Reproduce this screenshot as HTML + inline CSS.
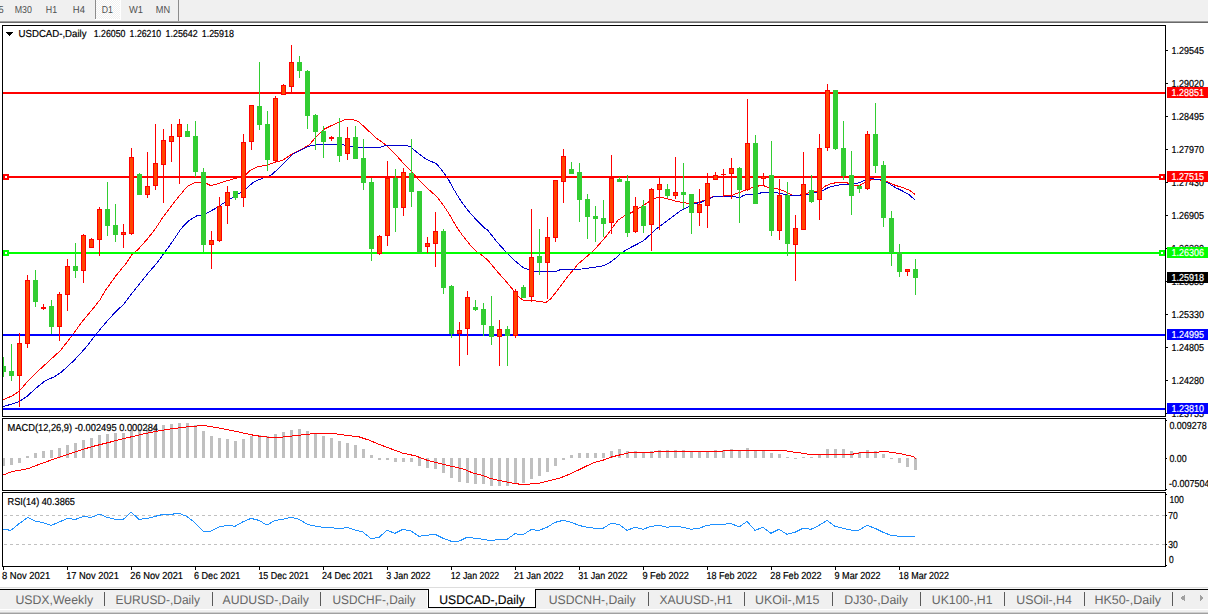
<!DOCTYPE html>
<html><head><meta charset="utf-8"><title>USDCAD-,Daily</title>
<style>
html,body{margin:0;padding:0;background:#fff;overflow:hidden}
svg{display:block;font-family:"Liberation Sans",sans-serif;text-rendering:geometricPrecision}
rect,path{shape-rendering:crispEdges}
</style></head><body>
<svg width="1208" height="614" viewBox="0 0 1208 614">
<rect x="0" y="0" width="1208" height="614" fill="#ffffff"/>
<rect x="0" y="0" width="1208" height="21" fill="#f0f0f0"/>
<rect x="0" y="21" width="1208" height="1" fill="#a0a0a0"/>
<rect x="0" y="22" width="1208" height="1" fill="#696969"/>
<defs><pattern id="chk" width="2" height="2" patternUnits="userSpaceOnUse"><rect width="2" height="2" fill="#f0f0f0"/><rect width="1" height="1" fill="#fff"/><rect x="1" y="1" width="1" height="1" fill="#fff"/></pattern></defs>
<rect x="96" y="0" width="24" height="19" fill="url(#chk)"/>
<rect x="95" y="19" width="25" height="1" fill="#ffffff"/>
<rect x="120" y="0" width="1" height="20" fill="#ffffff"/>
<rect x="95" y="0" width="1" height="19" fill="#8c8c8c"/>
<rect x="178" y="0" width="1" height="21" fill="#8c8c8c"/>
<text x="-1.5" y="13" font-size="10.1" fill="#505050" text-anchor="start" textLength="5.2" lengthAdjust="spacingAndGlyphs">5</text>
<text x="14.7" y="13" font-size="10.1" fill="#505050" text-anchor="start" textLength="17.2" lengthAdjust="spacingAndGlyphs">M30</text>
<text x="45.8" y="13" font-size="10.1" fill="#505050" text-anchor="start" textLength="11.3" lengthAdjust="spacingAndGlyphs">H1</text>
<text x="72.8" y="13" font-size="10.1" fill="#505050" text-anchor="start" textLength="12.1" lengthAdjust="spacingAndGlyphs">H4</text>
<text x="101.8" y="13" font-size="10.1" fill="#505050" text-anchor="start" textLength="11.2" lengthAdjust="spacingAndGlyphs">D1</text>
<text x="129" y="13" font-size="10.1" fill="#505050" text-anchor="start" textLength="14" lengthAdjust="spacingAndGlyphs">W1</text>
<text x="155.8" y="13" font-size="10.1" fill="#505050" text-anchor="start" textLength="14.3" lengthAdjust="spacingAndGlyphs">MN</text>
<rect x="2" y="25" width="1164" height="1" fill="#000"/>
<rect x="2" y="416" width="1164" height="1" fill="#000"/>
<rect x="2" y="25" width="1" height="392" fill="#000"/>
<rect x="1165" y="25" width="1" height="392" fill="#000"/>
<rect x="2" y="418" width="1164" height="1" fill="#000"/>
<rect x="2" y="490" width="1164" height="1" fill="#000"/>
<rect x="2" y="418" width="1" height="73" fill="#000"/>
<rect x="1165" y="418" width="1" height="73" fill="#000"/>
<rect x="2" y="492" width="1164" height="1" fill="#000"/>
<rect x="2" y="566" width="1164" height="1" fill="#000"/>
<rect x="2" y="492" width="1" height="75" fill="#000"/>
<rect x="1165" y="492" width="1" height="75" fill="#000"/>
<defs><clipPath id="cm"><rect x="3" y="26" width="1162" height="390"/></clipPath><clipPath id="c2"><rect x="3" y="419" width="1162" height="71"/></clipPath><clipPath id="c3"><rect x="3" y="493" width="1162" height="73"/></clipPath></defs>
<g clip-path="url(#cm)">
<polyline points="2.8,399.9 12.2,395.8 19.3,391.1 26.5,382.6 38.7,370.4 48.8,361.2 60.0,351.0 71.2,336.8 81.4,322.6 91.6,310.4 99.7,300.2 105.8,289.9 116.0,275.6 126.1,263.4 132.2,254.3 138.3,249.2 146.5,240.0 154.6,229.9 162.7,217.6 170.9,206.5 179.0,196.3 187.2,186.5 195.3,182.3 203.4,182.0 210.6,185.5 217.7,183.9 227.9,180.5 236.0,178.2 242.0,176.0 246.0,174.5 250.2,170.5 258.3,166.5 266.5,165.4 274.6,162.4 282.7,160.2 291.9,154.1 301.0,149.5 309.2,144.9 315.3,137.7 323.4,129.5 331.6,125.5 339.7,121.8 345.8,119.4 350.9,119.0 358.0,121.4 364.1,126.5 368.0,130.4 376.3,138.1 386.5,145.3 394.6,153.4 402.7,162.6 410.9,170.7 419.0,179.9 429.2,190.0 437.3,197.2 443.4,205.3 449.5,214.5 455.6,225.3 461.8,234.5 469.9,244.6 476.0,251.2 482.1,255.5 488.0,260.3 497.0,271.2 505.1,280.4 513.3,290.1 518.3,296.6 523.4,300.3 531.6,300.7 539.7,301.3 545.8,302.7 550.9,298.7 558.0,289.5 564.1,281.4 568.0,276.3 578.0,264.1 585.1,258.0 593.3,250.9 601.4,241.8 607.5,234.6 612.6,227.5 617.7,220.4 623.8,216.3 629.9,213.3 636.0,210.2 642.1,206.1 646.1,203.6 652.2,199.5 659.3,196.9 666.5,198.5 674.6,200.9 682.7,202.6 690.9,203.6 697.0,202.6 705.1,200.1 713.3,196.5 723.4,196.0 731.6,195.4 739.7,192.4 747.9,189.3 753.0,187.3 758.2,186.5 759.5,185.2 763.4,185.2 765.4,186.5 768.6,187.5 776.3,188.2 784.4,191.3 792.6,195.4 797.6,196.0 802.7,194.3 810.9,192.3 819.0,191.3 825.1,186.2 831.2,183.5 839.4,182.3 847.5,183.0 853.6,185.2 859.7,185.5 865.6,181.8 871.0,179.8 879.5,179.8 886.8,181.7 894.9,185.2 903.1,187.7 909.2,190.1 914.9,194.4" fill="none" stroke="#ff0000" stroke-width="1" shape-rendering="crispEdges"/>
<polyline points="2.8,406.6 12.2,404.0 19.3,401.5 26.5,396.8 36.6,387.7 44.8,381.0 54.9,376.5 61.0,372.4 73.3,361.2 85.5,348.0 95.6,334.8 105.8,322.6 116.0,311.4 124.0,304.0 132.2,293.0 140.4,282.8 148.5,272.6 156.6,263.4 164.8,252.2 172.9,241.0 181.0,228.8 189.2,220.3 197.3,215.6 203.4,215.0 207.5,212.6 215.6,208.5 221.7,204.4 229.9,199.3 238.0,194.2 246.1,188.6 254.2,181.7 262.4,178.3 270.5,175.6 278.7,168.5 286.8,160.4 292.9,154.1 301.0,150.1 309.2,146.1 317.3,144.5 325.5,144.2 335.7,144.2 343.8,145.0 349.9,146.3 360.0,147.3 370.2,147.7 380.4,147.3 386.5,145.3 394.6,145.4 402.7,145.2 409.9,146.3 417.0,152.4 425.1,158.5 431.2,161.5 436.3,163.6 441.4,169.7 447.5,177.8 453.6,189.0 459.7,199.2 467.9,210.4 476.0,219.5 484.1,227.7 487.4,229.9 497.3,242.3 507.3,253.5 517.2,262.8 523.4,267.8 527.7,269.3 534.6,271.5 555.7,271.5 561.3,269.3 571.8,269.3 581.8,269.0 590.5,267.8 599.1,266.5 604.1,265.7 610.3,262.2 615.3,258.5 620.0,254.1 623.8,251.5 631.9,246.8 638.0,243.8 644.1,240.2 648.1,236.5 656.3,229.0 664.4,222.9 672.6,216.8 680.7,210.7 688.8,206.6 694.9,203.6 701.0,202.2 707.2,199.5 710.0,198.5 714.2,196.3 735.4,196.3 736.7,197.6 740.0,197.6 743.2,195.6 746.5,194.3 753.0,194.3 759.5,193.7 761.5,192.4 768.6,192.4 776.3,192.7 784.4,194.3 792.6,196.0 800.7,195.4 808.8,194.3 817.0,192.3 823.1,190.3 829.2,187.2 837.3,185.2 845.5,184.4 853.6,183.6 859.7,182.7 865.6,179.8 871.0,178.8 879.5,179.3 886.8,182.2 894.9,187.3 903.1,191.3 909.2,194.8 914.9,199.9" fill="none" stroke="#0000cd" stroke-width="1" shape-rendering="crispEdges"/>
</g>
<g clip-path="url(#cm)">
<rect x="3" y="92" width="1162" height="2" fill="#ff0000"/>
<rect x="3" y="176" width="1162" height="2" fill="#ff0000"/>
<rect x="3" y="252" width="1162" height="2" fill="#00ff00"/>
<rect x="3" y="334" width="1162" height="2" fill="#0000ff"/>
<rect x="3" y="408" width="1162" height="2" fill="#0000ff"/>
</g>
<g clip-path="url(#cm)">
<rect x="3" y="357" width="1" height="20" fill="#32cd32"/>
<rect x="1" y="366" width="5" height="6" fill="#32cd32"/>
<rect x="11" y="344" width="1" height="37" fill="#32cd32"/>
<rect x="9" y="371" width="5" height="5" fill="#32cd32"/>
<rect x="19" y="333" width="1" height="74" fill="#ff0000"/>
<rect x="17" y="343" width="5" height="33" fill="#ff0000"/>
<rect x="18" y="344" width="3" height="31" fill="#ff4500"/>
<rect x="27" y="275" width="1" height="73" fill="#ff0000"/>
<rect x="25" y="280" width="5" height="64" fill="#ff0000"/>
<rect x="26" y="281" width="3" height="62" fill="#ff4500"/>
<rect x="35" y="270" width="1" height="37" fill="#32cd32"/>
<rect x="33" y="280" width="5" height="22" fill="#32cd32"/>
<rect x="43" y="304" width="1" height="6" fill="#ff0000"/>
<rect x="41" y="307" width="5" height="2" fill="#ff0000"/>
<rect x="51" y="300" width="1" height="34" fill="#32cd32"/>
<rect x="49" y="306" width="5" height="21" fill="#32cd32"/>
<rect x="59" y="292" width="1" height="49" fill="#ff0000"/>
<rect x="57" y="294" width="5" height="33" fill="#ff0000"/>
<rect x="58" y="295" width="3" height="31" fill="#ff4500"/>
<rect x="67" y="259" width="1" height="52" fill="#ff0000"/>
<rect x="65" y="266" width="5" height="29" fill="#ff0000"/>
<rect x="66" y="267" width="3" height="27" fill="#ff4500"/>
<rect x="75" y="243" width="1" height="35" fill="#32cd32"/>
<rect x="73" y="266" width="5" height="5" fill="#32cd32"/>
<rect x="83" y="234" width="1" height="49" fill="#ff0000"/>
<rect x="81" y="235" width="5" height="36" fill="#ff0000"/>
<rect x="82" y="236" width="3" height="34" fill="#ff4500"/>
<rect x="91" y="238" width="1" height="10" fill="#ff0000"/>
<rect x="89" y="239" width="5" height="9" fill="#ff0000"/>
<rect x="90" y="240" width="3" height="7" fill="#ff4500"/>
<rect x="99" y="207" width="1" height="49" fill="#ff0000"/>
<rect x="97" y="209" width="5" height="31" fill="#ff0000"/>
<rect x="98" y="210" width="3" height="29" fill="#ff4500"/>
<rect x="107" y="182" width="1" height="54" fill="#32cd32"/>
<rect x="105" y="209" width="5" height="17" fill="#32cd32"/>
<rect x="115" y="204" width="1" height="38" fill="#32cd32"/>
<rect x="113" y="225" width="5" height="10" fill="#32cd32"/>
<rect x="123" y="224" width="1" height="24" fill="#ff0000"/>
<rect x="121" y="232" width="5" height="3" fill="#ff0000"/>
<rect x="122" y="233" width="3" height="1" fill="#ff4500"/>
<rect x="131" y="148" width="1" height="87" fill="#ff0000"/>
<rect x="129" y="157" width="5" height="77" fill="#ff0000"/>
<rect x="130" y="158" width="3" height="75" fill="#ff4500"/>
<rect x="139" y="173" width="1" height="22" fill="#32cd32"/>
<rect x="137" y="174" width="5" height="21" fill="#32cd32"/>
<rect x="147" y="152" width="1" height="46" fill="#ff0000"/>
<rect x="145" y="186" width="5" height="9" fill="#ff0000"/>
<rect x="146" y="187" width="3" height="7" fill="#ff4500"/>
<rect x="155" y="124" width="1" height="66" fill="#ff0000"/>
<rect x="153" y="163" width="5" height="23" fill="#ff0000"/>
<rect x="154" y="164" width="3" height="21" fill="#ff4500"/>
<rect x="163" y="129" width="1" height="74" fill="#ff0000"/>
<rect x="161" y="140" width="5" height="25" fill="#ff0000"/>
<rect x="162" y="141" width="3" height="23" fill="#ff4500"/>
<rect x="171" y="124" width="1" height="38" fill="#ff0000"/>
<rect x="169" y="136" width="5" height="6" fill="#ff0000"/>
<rect x="170" y="137" width="3" height="4" fill="#ff4500"/>
<rect x="179" y="119" width="1" height="65" fill="#ff0000"/>
<rect x="177" y="124" width="5" height="13" fill="#ff0000"/>
<rect x="178" y="125" width="3" height="11" fill="#ff4500"/>
<rect x="187" y="124" width="1" height="13" fill="#32cd32"/>
<rect x="185" y="131" width="5" height="6" fill="#32cd32"/>
<rect x="195" y="121" width="1" height="56" fill="#32cd32"/>
<rect x="193" y="136" width="5" height="36" fill="#32cd32"/>
<rect x="203" y="168" width="1" height="84" fill="#32cd32"/>
<rect x="201" y="172" width="5" height="73" fill="#32cd32"/>
<rect x="211" y="231" width="1" height="38" fill="#ff0000"/>
<rect x="209" y="240" width="5" height="5" fill="#ff0000"/>
<rect x="210" y="241" width="3" height="3" fill="#ff4500"/>
<rect x="219" y="197" width="1" height="45" fill="#ff0000"/>
<rect x="217" y="206" width="5" height="35" fill="#ff0000"/>
<rect x="218" y="207" width="3" height="33" fill="#ff4500"/>
<rect x="227" y="186" width="1" height="38" fill="#ff0000"/>
<rect x="225" y="192" width="5" height="14" fill="#ff0000"/>
<rect x="226" y="193" width="3" height="12" fill="#ff4500"/>
<rect x="235" y="191" width="1" height="9" fill="#32cd32"/>
<rect x="233" y="191" width="5" height="7" fill="#32cd32"/>
<rect x="243" y="134" width="1" height="73" fill="#ff0000"/>
<rect x="241" y="142" width="5" height="56" fill="#ff0000"/>
<rect x="242" y="143" width="3" height="54" fill="#ff4500"/>
<rect x="251" y="105" width="1" height="45" fill="#ff0000"/>
<rect x="249" y="105" width="5" height="37" fill="#ff0000"/>
<rect x="250" y="106" width="3" height="35" fill="#ff4500"/>
<rect x="259" y="62" width="1" height="68" fill="#32cd32"/>
<rect x="257" y="106" width="5" height="19" fill="#32cd32"/>
<rect x="267" y="111" width="1" height="60" fill="#32cd32"/>
<rect x="265" y="124" width="5" height="36" fill="#32cd32"/>
<rect x="275" y="96" width="1" height="66" fill="#ff0000"/>
<rect x="273" y="98" width="5" height="63" fill="#ff0000"/>
<rect x="274" y="99" width="3" height="61" fill="#ff4500"/>
<rect x="283" y="84" width="1" height="11" fill="#ff0000"/>
<rect x="281" y="85" width="5" height="10" fill="#ff0000"/>
<rect x="282" y="86" width="3" height="8" fill="#ff4500"/>
<rect x="291" y="45" width="1" height="47" fill="#ff0000"/>
<rect x="289" y="62" width="5" height="25" fill="#ff0000"/>
<rect x="290" y="63" width="3" height="23" fill="#ff4500"/>
<rect x="299" y="56" width="1" height="22" fill="#32cd32"/>
<rect x="297" y="62" width="5" height="9" fill="#32cd32"/>
<rect x="307" y="70" width="1" height="59" fill="#32cd32"/>
<rect x="305" y="71" width="5" height="45" fill="#32cd32"/>
<rect x="315" y="114" width="1" height="36" fill="#32cd32"/>
<rect x="313" y="115" width="5" height="17" fill="#32cd32"/>
<rect x="323" y="126" width="1" height="32" fill="#32cd32"/>
<rect x="321" y="131" width="5" height="11" fill="#32cd32"/>
<rect x="331" y="136" width="1" height="5" fill="#ff0000"/>
<rect x="329" y="137" width="5" height="2" fill="#ff0000"/>
<rect x="339" y="118" width="1" height="44" fill="#32cd32"/>
<rect x="337" y="137" width="5" height="19" fill="#32cd32"/>
<rect x="347" y="127" width="1" height="33" fill="#ff0000"/>
<rect x="345" y="138" width="5" height="16" fill="#ff0000"/>
<rect x="346" y="139" width="3" height="14" fill="#ff4500"/>
<rect x="355" y="126" width="1" height="33" fill="#32cd32"/>
<rect x="353" y="137" width="5" height="22" fill="#32cd32"/>
<rect x="363" y="139" width="1" height="51" fill="#32cd32"/>
<rect x="361" y="158" width="5" height="25" fill="#32cd32"/>
<rect x="371" y="178" width="1" height="83" fill="#32cd32"/>
<rect x="369" y="182" width="5" height="67" fill="#32cd32"/>
<rect x="379" y="235" width="1" height="20" fill="#ff0000"/>
<rect x="377" y="236" width="5" height="18" fill="#ff0000"/>
<rect x="378" y="237" width="3" height="16" fill="#ff4500"/>
<rect x="387" y="161" width="1" height="85" fill="#ff0000"/>
<rect x="385" y="178" width="5" height="58" fill="#ff0000"/>
<rect x="386" y="179" width="3" height="56" fill="#ff4500"/>
<rect x="395" y="169" width="1" height="63" fill="#32cd32"/>
<rect x="393" y="178" width="5" height="30" fill="#32cd32"/>
<rect x="403" y="168" width="1" height="48" fill="#ff0000"/>
<rect x="401" y="172" width="5" height="36" fill="#ff0000"/>
<rect x="402" y="173" width="3" height="34" fill="#ff4500"/>
<rect x="411" y="139" width="1" height="68" fill="#32cd32"/>
<rect x="409" y="173" width="5" height="19" fill="#32cd32"/>
<rect x="419" y="191" width="1" height="62" fill="#32cd32"/>
<rect x="417" y="191" width="5" height="62" fill="#32cd32"/>
<rect x="427" y="237" width="1" height="16" fill="#ff0000"/>
<rect x="425" y="243" width="5" height="4" fill="#ff0000"/>
<rect x="426" y="244" width="3" height="2" fill="#ff4500"/>
<rect x="435" y="212" width="1" height="55" fill="#ff0000"/>
<rect x="433" y="231" width="5" height="13" fill="#ff0000"/>
<rect x="434" y="232" width="3" height="11" fill="#ff4500"/>
<rect x="443" y="229" width="1" height="65" fill="#32cd32"/>
<rect x="441" y="231" width="5" height="57" fill="#32cd32"/>
<rect x="451" y="285" width="1" height="53" fill="#32cd32"/>
<rect x="449" y="286" width="5" height="48" fill="#32cd32"/>
<rect x="459" y="322" width="1" height="44" fill="#ff0000"/>
<rect x="457" y="330" width="5" height="4" fill="#ff0000"/>
<rect x="458" y="331" width="3" height="2" fill="#ff4500"/>
<rect x="467" y="291" width="1" height="64" fill="#ff0000"/>
<rect x="465" y="297" width="5" height="32" fill="#ff0000"/>
<rect x="466" y="298" width="3" height="30" fill="#ff4500"/>
<rect x="475" y="300" width="1" height="11" fill="#32cd32"/>
<rect x="473" y="307" width="5" height="3" fill="#32cd32"/>
<rect x="483" y="303" width="1" height="33" fill="#32cd32"/>
<rect x="481" y="309" width="5" height="16" fill="#32cd32"/>
<rect x="491" y="296" width="1" height="49" fill="#32cd32"/>
<rect x="489" y="326" width="5" height="11" fill="#32cd32"/>
<rect x="499" y="320" width="1" height="46" fill="#ff0000"/>
<rect x="497" y="329" width="5" height="8" fill="#ff0000"/>
<rect x="498" y="330" width="3" height="6" fill="#ff4500"/>
<rect x="507" y="326" width="1" height="40" fill="#32cd32"/>
<rect x="505" y="329" width="5" height="7" fill="#32cd32"/>
<rect x="515" y="289" width="1" height="49" fill="#ff0000"/>
<rect x="513" y="291" width="5" height="45" fill="#ff0000"/>
<rect x="514" y="292" width="3" height="43" fill="#ff4500"/>
<rect x="523" y="285" width="1" height="13" fill="#32cd32"/>
<rect x="521" y="287" width="5" height="11" fill="#32cd32"/>
<rect x="531" y="209" width="1" height="93" fill="#ff0000"/>
<rect x="529" y="257" width="5" height="40" fill="#ff0000"/>
<rect x="530" y="258" width="3" height="38" fill="#ff4500"/>
<rect x="539" y="229" width="1" height="46" fill="#32cd32"/>
<rect x="537" y="256" width="5" height="7" fill="#32cd32"/>
<rect x="547" y="217" width="1" height="82" fill="#ff0000"/>
<rect x="545" y="237" width="5" height="26" fill="#ff0000"/>
<rect x="546" y="238" width="3" height="24" fill="#ff4500"/>
<rect x="555" y="180" width="1" height="62" fill="#ff0000"/>
<rect x="553" y="180" width="5" height="58" fill="#ff0000"/>
<rect x="554" y="181" width="3" height="56" fill="#ff4500"/>
<rect x="563" y="149" width="1" height="54" fill="#ff0000"/>
<rect x="561" y="156" width="5" height="26" fill="#ff0000"/>
<rect x="562" y="157" width="3" height="24" fill="#ff4500"/>
<rect x="571" y="162" width="1" height="12" fill="#32cd32"/>
<rect x="569" y="169" width="5" height="5" fill="#32cd32"/>
<rect x="579" y="163" width="1" height="59" fill="#32cd32"/>
<rect x="577" y="172" width="5" height="28" fill="#32cd32"/>
<rect x="587" y="194" width="1" height="45" fill="#32cd32"/>
<rect x="585" y="199" width="5" height="18" fill="#32cd32"/>
<rect x="595" y="206" width="1" height="36" fill="#32cd32"/>
<rect x="593" y="216" width="5" height="3" fill="#32cd32"/>
<rect x="603" y="200" width="1" height="37" fill="#32cd32"/>
<rect x="601" y="218" width="5" height="6" fill="#32cd32"/>
<rect x="611" y="155" width="1" height="79" fill="#ff0000"/>
<rect x="609" y="178" width="5" height="45" fill="#ff0000"/>
<rect x="610" y="179" width="3" height="43" fill="#ff4500"/>
<rect x="619" y="177" width="1" height="5" fill="#32cd32"/>
<rect x="617" y="179" width="5" height="3" fill="#32cd32"/>
<rect x="627" y="175" width="1" height="62" fill="#32cd32"/>
<rect x="625" y="181" width="5" height="52" fill="#32cd32"/>
<rect x="635" y="197" width="1" height="36" fill="#ff0000"/>
<rect x="633" y="206" width="5" height="26" fill="#ff0000"/>
<rect x="634" y="207" width="3" height="24" fill="#ff4500"/>
<rect x="643" y="200" width="1" height="33" fill="#32cd32"/>
<rect x="641" y="206" width="5" height="20" fill="#32cd32"/>
<rect x="651" y="188" width="1" height="63" fill="#ff0000"/>
<rect x="649" y="189" width="5" height="36" fill="#ff0000"/>
<rect x="650" y="190" width="3" height="34" fill="#ff4500"/>
<rect x="659" y="177" width="1" height="53" fill="#ff0000"/>
<rect x="657" y="184" width="5" height="6" fill="#ff0000"/>
<rect x="658" y="185" width="3" height="4" fill="#ff4500"/>
<rect x="667" y="184" width="1" height="14" fill="#32cd32"/>
<rect x="665" y="189" width="5" height="7" fill="#32cd32"/>
<rect x="675" y="157" width="1" height="42" fill="#ff0000"/>
<rect x="673" y="192" width="5" height="4" fill="#ff0000"/>
<rect x="674" y="193" width="3" height="2" fill="#ff4500"/>
<rect x="683" y="163" width="1" height="46" fill="#32cd32"/>
<rect x="681" y="192" width="5" height="3" fill="#32cd32"/>
<rect x="691" y="194" width="1" height="40" fill="#32cd32"/>
<rect x="689" y="194" width="5" height="19" fill="#32cd32"/>
<rect x="699" y="189" width="1" height="37" fill="#ff0000"/>
<rect x="697" y="204" width="5" height="9" fill="#ff0000"/>
<rect x="698" y="205" width="3" height="7" fill="#ff4500"/>
<rect x="707" y="173" width="1" height="55" fill="#ff0000"/>
<rect x="705" y="183" width="5" height="23" fill="#ff0000"/>
<rect x="706" y="184" width="3" height="21" fill="#ff4500"/>
<rect x="715" y="172" width="1" height="8" fill="#ff0000"/>
<rect x="713" y="175" width="5" height="5" fill="#ff0000"/>
<rect x="714" y="176" width="3" height="3" fill="#ff4500"/>
<rect x="723" y="169" width="1" height="28" fill="#ff0000"/>
<rect x="721" y="174" width="5" height="1" fill="#ff0000"/>
<rect x="731" y="158" width="1" height="41" fill="#ff0000"/>
<rect x="729" y="168" width="5" height="6" fill="#ff0000"/>
<rect x="730" y="169" width="3" height="4" fill="#ff4500"/>
<rect x="739" y="167" width="1" height="56" fill="#32cd32"/>
<rect x="737" y="168" width="5" height="22" fill="#32cd32"/>
<rect x="747" y="99" width="1" height="92" fill="#ff0000"/>
<rect x="745" y="143" width="5" height="47" fill="#ff0000"/>
<rect x="746" y="144" width="3" height="45" fill="#ff4500"/>
<rect x="755" y="135" width="1" height="69" fill="#32cd32"/>
<rect x="753" y="143" width="5" height="61" fill="#32cd32"/>
<rect x="763" y="173" width="1" height="13" fill="#ff0000"/>
<rect x="761" y="176" width="5" height="3" fill="#ff0000"/>
<rect x="762" y="177" width="3" height="1" fill="#ff4500"/>
<rect x="771" y="141" width="1" height="95" fill="#32cd32"/>
<rect x="769" y="175" width="5" height="56" fill="#32cd32"/>
<rect x="779" y="179" width="1" height="61" fill="#ff0000"/>
<rect x="777" y="195" width="5" height="36" fill="#ff0000"/>
<rect x="778" y="196" width="3" height="34" fill="#ff4500"/>
<rect x="787" y="182" width="1" height="74" fill="#32cd32"/>
<rect x="785" y="195" width="5" height="49" fill="#32cd32"/>
<rect x="795" y="215" width="1" height="66" fill="#ff0000"/>
<rect x="793" y="228" width="5" height="17" fill="#ff0000"/>
<rect x="794" y="229" width="3" height="15" fill="#ff4500"/>
<rect x="803" y="152" width="1" height="78" fill="#ff0000"/>
<rect x="801" y="184" width="5" height="46" fill="#ff0000"/>
<rect x="802" y="185" width="3" height="44" fill="#ff4500"/>
<rect x="811" y="175" width="1" height="28" fill="#32cd32"/>
<rect x="809" y="190" width="5" height="12" fill="#32cd32"/>
<rect x="819" y="134" width="1" height="86" fill="#ff0000"/>
<rect x="817" y="148" width="5" height="52" fill="#ff0000"/>
<rect x="818" y="149" width="3" height="50" fill="#ff4500"/>
<rect x="827" y="84" width="1" height="67" fill="#ff0000"/>
<rect x="825" y="90" width="5" height="58" fill="#ff0000"/>
<rect x="826" y="91" width="3" height="56" fill="#ff4500"/>
<rect x="835" y="90" width="1" height="60" fill="#32cd32"/>
<rect x="833" y="90" width="5" height="59" fill="#32cd32"/>
<rect x="843" y="121" width="1" height="59" fill="#32cd32"/>
<rect x="841" y="148" width="5" height="28" fill="#32cd32"/>
<rect x="851" y="151" width="1" height="64" fill="#32cd32"/>
<rect x="849" y="175" width="5" height="21" fill="#32cd32"/>
<rect x="859" y="185" width="1" height="8" fill="#32cd32"/>
<rect x="857" y="186" width="5" height="3" fill="#32cd32"/>
<rect x="867" y="131" width="1" height="59" fill="#ff0000"/>
<rect x="865" y="134" width="5" height="55" fill="#ff0000"/>
<rect x="866" y="135" width="3" height="53" fill="#ff4500"/>
<rect x="875" y="103" width="1" height="70" fill="#32cd32"/>
<rect x="873" y="134" width="5" height="32" fill="#32cd32"/>
<rect x="883" y="161" width="1" height="66" fill="#32cd32"/>
<rect x="881" y="165" width="5" height="53" fill="#32cd32"/>
<rect x="891" y="211" width="1" height="55" fill="#32cd32"/>
<rect x="889" y="218" width="5" height="35" fill="#32cd32"/>
<rect x="899" y="244" width="1" height="33" fill="#32cd32"/>
<rect x="897" y="252" width="5" height="20" fill="#32cd32"/>
<rect x="907" y="269" width="1" height="7" fill="#ff0000"/>
<rect x="905" y="269" width="5" height="3" fill="#ff0000"/>
<rect x="906" y="270" width="3" height="1" fill="#ff4500"/>
<rect x="915" y="259" width="1" height="36" fill="#32cd32"/>
<rect x="913" y="269" width="5" height="9" fill="#32cd32"/>
</g>
<rect x="3" y="174" width="6" height="6" fill="#ff0000"/>
<rect x="5" y="176" width="2" height="2" fill="#fff"/>
<rect x="1159" y="174" width="6" height="6" fill="#ff0000"/>
<rect x="1161" y="176" width="2" height="2" fill="#fff"/>
<rect x="3" y="250" width="6" height="6" fill="#00ff00"/>
<rect x="5" y="252" width="2" height="2" fill="#fff"/>
<rect x="1159" y="250" width="6" height="6" fill="#00ff00"/>
<rect x="1161" y="252" width="2" height="2" fill="#fff"/>
<path d="M6 32 L13 32 L9.5 36 Z" fill="#000"/>
<text x="18.6" y="37" font-size="10.1" fill="#000" text-anchor="start" textLength="67.9" lengthAdjust="spacingAndGlyphs" stroke="#000" stroke-width="0.2">USDCAD-,Daily</text>
<text x="93.7" y="37" font-size="10.1" fill="#000" text-anchor="start" textLength="31.7" lengthAdjust="spacingAndGlyphs" stroke="#000" stroke-width="0.2">1.26050</text>
<text x="129.6" y="37" font-size="10.1" fill="#000" text-anchor="start" textLength="31.6" lengthAdjust="spacingAndGlyphs" stroke="#000" stroke-width="0.2">1.26210</text>
<text x="165.5" y="37" font-size="10.1" fill="#000" text-anchor="start" textLength="32.2" lengthAdjust="spacingAndGlyphs" stroke="#000" stroke-width="0.2">1.25642</text>
<text x="201.7" y="37" font-size="10.1" fill="#000" text-anchor="start" textLength="32.3" lengthAdjust="spacingAndGlyphs" stroke="#000" stroke-width="0.2">1.25918</text>
<rect x="1166" y="50" width="2" height="1" fill="#000"/>
<text x="1171.5" y="54" font-size="10.1" fill="#000" text-anchor="start" textLength="32.4" lengthAdjust="spacingAndGlyphs" stroke="#000" stroke-width="0.2">1.29545</text>
<rect x="1166" y="83" width="2" height="1" fill="#000"/>
<text x="1171.5" y="87" font-size="10.1" fill="#000" text-anchor="start" textLength="32.4" lengthAdjust="spacingAndGlyphs" stroke="#000" stroke-width="0.2">1.29020</text>
<rect x="1166" y="116" width="2" height="1" fill="#000"/>
<text x="1171.5" y="120" font-size="10.1" fill="#000" text-anchor="start" textLength="32.4" lengthAdjust="spacingAndGlyphs" stroke="#000" stroke-width="0.2">1.28495</text>
<rect x="1166" y="149" width="2" height="1" fill="#000"/>
<text x="1171.5" y="153" font-size="10.1" fill="#000" text-anchor="start" textLength="32.4" lengthAdjust="spacingAndGlyphs" stroke="#000" stroke-width="0.2">1.27970</text>
<rect x="1166" y="182" width="2" height="1" fill="#000"/>
<text x="1171.5" y="186" font-size="10.1" fill="#000" text-anchor="start" textLength="32.4" lengthAdjust="spacingAndGlyphs" stroke="#000" stroke-width="0.2">1.27430</text>
<rect x="1166" y="215" width="2" height="1" fill="#000"/>
<text x="1171.5" y="219" font-size="10.1" fill="#000" text-anchor="start" textLength="32.4" lengthAdjust="spacingAndGlyphs" stroke="#000" stroke-width="0.2">1.26905</text>
<rect x="1166" y="248" width="2" height="1" fill="#000"/>
<text x="1171.5" y="252" font-size="10.1" fill="#000" text-anchor="start" textLength="32.4" lengthAdjust="spacingAndGlyphs" stroke="#000" stroke-width="0.2">1.26380</text>
<rect x="1166" y="281" width="2" height="1" fill="#000"/>
<text x="1171.5" y="285" font-size="10.1" fill="#000" text-anchor="start" textLength="32.4" lengthAdjust="spacingAndGlyphs" stroke="#000" stroke-width="0.2">1.25855</text>
<rect x="1166" y="314" width="2" height="1" fill="#000"/>
<text x="1171.5" y="318" font-size="10.1" fill="#000" text-anchor="start" textLength="32.4" lengthAdjust="spacingAndGlyphs" stroke="#000" stroke-width="0.2">1.25330</text>
<rect x="1166" y="347" width="2" height="1" fill="#000"/>
<text x="1171.5" y="351" font-size="10.1" fill="#000" text-anchor="start" textLength="32.4" lengthAdjust="spacingAndGlyphs" stroke="#000" stroke-width="0.2">1.24805</text>
<rect x="1166" y="380" width="2" height="1" fill="#000"/>
<text x="1171.5" y="384" font-size="10.1" fill="#000" text-anchor="start" textLength="32.4" lengthAdjust="spacingAndGlyphs" stroke="#000" stroke-width="0.2">1.24280</text>
<rect x="1166" y="413" width="2" height="1" fill="#000"/>
<text x="1171.5" y="417" font-size="10.1" fill="#000" text-anchor="start" textLength="32.4" lengthAdjust="spacingAndGlyphs" stroke="#000" stroke-width="0.2">1.23755</text>
<rect x="1167" y="87" width="41" height="11" fill="#ff0000"/>
<text x="1171.5" y="96" font-size="10.1" fill="#fff" text-anchor="start" textLength="32.4" lengthAdjust="spacingAndGlyphs" stroke="#fff" stroke-width="0.2">1.28851</text>
<rect x="1167" y="171" width="41" height="11" fill="#ff0000"/>
<text x="1171.5" y="180" font-size="10.1" fill="#fff" text-anchor="start" textLength="32.4" lengthAdjust="spacingAndGlyphs" stroke="#fff" stroke-width="0.2">1.27515</text>
<rect x="1167" y="247" width="41" height="11" fill="#00ff00"/>
<text x="1171.5" y="256" font-size="10.1" fill="#fff" text-anchor="start" textLength="32.4" lengthAdjust="spacingAndGlyphs" stroke="#fff" stroke-width="0.2">1.26306</text>
<rect x="1167" y="272" width="41" height="11" fill="#000000"/>
<text x="1171.5" y="281" font-size="10.1" fill="#fff" text-anchor="start" textLength="32.4" lengthAdjust="spacingAndGlyphs" stroke="#fff" stroke-width="0.2">1.25918</text>
<rect x="1167" y="329" width="41" height="11" fill="#0000ff"/>
<text x="1171.5" y="338" font-size="10.1" fill="#fff" text-anchor="start" textLength="32.4" lengthAdjust="spacingAndGlyphs" stroke="#fff" stroke-width="0.2">1.24995</text>
<rect x="1167" y="403" width="41" height="11" fill="#0000ff"/>
<text x="1171.5" y="412" font-size="10.1" fill="#fff" text-anchor="start" textLength="32.4" lengthAdjust="spacingAndGlyphs" stroke="#fff" stroke-width="0.2">1.23810</text>
<g clip-path="url(#c2)">
<rect x="2" y="458" width="3" height="8" fill="#c0c0c0"/>
<rect x="10" y="458" width="3" height="7" fill="#c0c0c0"/>
<rect x="18" y="458" width="3" height="5" fill="#c0c0c0"/>
<rect x="26" y="456" width="3" height="2" fill="#c0c0c0"/>
<rect x="34" y="453" width="3" height="5" fill="#c0c0c0"/>
<rect x="42" y="451" width="3" height="7" fill="#c0c0c0"/>
<rect x="50" y="450" width="3" height="8" fill="#c0c0c0"/>
<rect x="58" y="448" width="3" height="10" fill="#c0c0c0"/>
<rect x="66" y="445" width="3" height="13" fill="#c0c0c0"/>
<rect x="74" y="443" width="3" height="15" fill="#c0c0c0"/>
<rect x="82" y="440" width="3" height="18" fill="#c0c0c0"/>
<rect x="90" y="438" width="3" height="20" fill="#c0c0c0"/>
<rect x="98" y="435" width="3" height="23" fill="#c0c0c0"/>
<rect x="106" y="434" width="3" height="24" fill="#c0c0c0"/>
<rect x="114" y="433" width="3" height="25" fill="#c0c0c0"/>
<rect x="122" y="433" width="3" height="25" fill="#c0c0c0"/>
<rect x="130" y="430" width="3" height="28" fill="#c0c0c0"/>
<rect x="138" y="429" width="3" height="29" fill="#c0c0c0"/>
<rect x="146" y="428" width="3" height="30" fill="#c0c0c0"/>
<rect x="154" y="426" width="3" height="32" fill="#c0c0c0"/>
<rect x="162" y="425" width="3" height="33" fill="#c0c0c0"/>
<rect x="170" y="424" width="3" height="34" fill="#c0c0c0"/>
<rect x="178" y="423" width="3" height="35" fill="#c0c0c0"/>
<rect x="186" y="423" width="3" height="35" fill="#c0c0c0"/>
<rect x="194" y="425" width="3" height="33" fill="#c0c0c0"/>
<rect x="202" y="431" width="3" height="27" fill="#c0c0c0"/>
<rect x="210" y="436" width="3" height="22" fill="#c0c0c0"/>
<rect x="218" y="438" width="3" height="20" fill="#c0c0c0"/>
<rect x="226" y="439" width="3" height="19" fill="#c0c0c0"/>
<rect x="234" y="441" width="3" height="17" fill="#c0c0c0"/>
<rect x="242" y="439" width="3" height="19" fill="#c0c0c0"/>
<rect x="250" y="436" width="3" height="22" fill="#c0c0c0"/>
<rect x="258" y="435" width="3" height="23" fill="#c0c0c0"/>
<rect x="266" y="436" width="3" height="22" fill="#c0c0c0"/>
<rect x="274" y="434" width="3" height="24" fill="#c0c0c0"/>
<rect x="282" y="432" width="3" height="26" fill="#c0c0c0"/>
<rect x="290" y="430" width="3" height="28" fill="#c0c0c0"/>
<rect x="298" y="429" width="3" height="29" fill="#c0c0c0"/>
<rect x="306" y="431" width="3" height="27" fill="#c0c0c0"/>
<rect x="314" y="434" width="3" height="24" fill="#c0c0c0"/>
<rect x="322" y="436" width="3" height="22" fill="#c0c0c0"/>
<rect x="330" y="438" width="3" height="20" fill="#c0c0c0"/>
<rect x="338" y="441" width="3" height="17" fill="#c0c0c0"/>
<rect x="346" y="443" width="3" height="15" fill="#c0c0c0"/>
<rect x="354" y="445" width="3" height="13" fill="#c0c0c0"/>
<rect x="362" y="449" width="3" height="9" fill="#c0c0c0"/>
<rect x="370" y="455" width="3" height="3" fill="#c0c0c0"/>
<rect x="378" y="458" width="3" height="2" fill="#c0c0c0"/>
<rect x="386" y="458" width="3" height="2" fill="#c0c0c0"/>
<rect x="394" y="458" width="3" height="4" fill="#c0c0c0"/>
<rect x="402" y="458" width="3" height="4" fill="#c0c0c0"/>
<rect x="410" y="458" width="3" height="4" fill="#c0c0c0"/>
<rect x="418" y="458" width="3" height="8" fill="#c0c0c0"/>
<rect x="426" y="458" width="3" height="10" fill="#c0c0c0"/>
<rect x="434" y="458" width="3" height="11" fill="#c0c0c0"/>
<rect x="442" y="458" width="3" height="15" fill="#c0c0c0"/>
<rect x="450" y="458" width="3" height="20" fill="#c0c0c0"/>
<rect x="458" y="458" width="3" height="24" fill="#c0c0c0"/>
<rect x="466" y="458" width="3" height="25" fill="#c0c0c0"/>
<rect x="474" y="458" width="3" height="26" fill="#c0c0c0"/>
<rect x="482" y="458" width="3" height="26" fill="#c0c0c0"/>
<rect x="490" y="458" width="3" height="28" fill="#c0c0c0"/>
<rect x="498" y="458" width="3" height="28" fill="#c0c0c0"/>
<rect x="506" y="458" width="3" height="28" fill="#c0c0c0"/>
<rect x="514" y="458" width="3" height="26" fill="#c0c0c0"/>
<rect x="522" y="458" width="3" height="25" fill="#c0c0c0"/>
<rect x="530" y="458" width="3" height="21" fill="#c0c0c0"/>
<rect x="538" y="458" width="3" height="18" fill="#c0c0c0"/>
<rect x="546" y="458" width="3" height="14" fill="#c0c0c0"/>
<rect x="554" y="458" width="3" height="8" fill="#c0c0c0"/>
<rect x="562" y="458" width="3" height="2" fill="#c0c0c0"/>
<rect x="570" y="455" width="3" height="3" fill="#c0c0c0"/>
<rect x="578" y="453" width="3" height="5" fill="#c0c0c0"/>
<rect x="586" y="453" width="3" height="5" fill="#c0c0c0"/>
<rect x="594" y="453" width="3" height="5" fill="#c0c0c0"/>
<rect x="602" y="453" width="3" height="5" fill="#c0c0c0"/>
<rect x="610" y="451" width="3" height="7" fill="#c0c0c0"/>
<rect x="618" y="449" width="3" height="9" fill="#c0c0c0"/>
<rect x="626" y="451" width="3" height="7" fill="#c0c0c0"/>
<rect x="634" y="451" width="3" height="7" fill="#c0c0c0"/>
<rect x="642" y="452" width="3" height="6" fill="#c0c0c0"/>
<rect x="650" y="451" width="3" height="7" fill="#c0c0c0"/>
<rect x="658" y="450" width="3" height="8" fill="#c0c0c0"/>
<rect x="666" y="450" width="3" height="8" fill="#c0c0c0"/>
<rect x="674" y="450" width="3" height="8" fill="#c0c0c0"/>
<rect x="682" y="450" width="3" height="8" fill="#c0c0c0"/>
<rect x="690" y="451" width="3" height="7" fill="#c0c0c0"/>
<rect x="698" y="452" width="3" height="6" fill="#c0c0c0"/>
<rect x="706" y="452" width="3" height="6" fill="#c0c0c0"/>
<rect x="714" y="450" width="3" height="8" fill="#c0c0c0"/>
<rect x="722" y="450" width="3" height="8" fill="#c0c0c0"/>
<rect x="730" y="449" width="3" height="9" fill="#c0c0c0"/>
<rect x="738" y="451" width="3" height="7" fill="#c0c0c0"/>
<rect x="746" y="448" width="3" height="10" fill="#c0c0c0"/>
<rect x="754" y="450" width="3" height="8" fill="#c0c0c0"/>
<rect x="762" y="450" width="3" height="8" fill="#c0c0c0"/>
<rect x="770" y="453" width="3" height="5" fill="#c0c0c0"/>
<rect x="778" y="454" width="3" height="4" fill="#c0c0c0"/>
<rect x="786" y="457" width="3" height="1" fill="#c0c0c0"/>
<rect x="794" y="458" width="3" height="1" fill="#c0c0c0"/>
<rect x="802" y="457" width="3" height="1" fill="#c0c0c0"/>
<rect x="810" y="457" width="3" height="1" fill="#c0c0c0"/>
<rect x="818" y="455" width="3" height="3" fill="#c0c0c0"/>
<rect x="826" y="449" width="3" height="9" fill="#c0c0c0"/>
<rect x="834" y="449" width="3" height="9" fill="#c0c0c0"/>
<rect x="842" y="449" width="3" height="9" fill="#c0c0c0"/>
<rect x="850" y="451" width="3" height="7" fill="#c0c0c0"/>
<rect x="858" y="452" width="3" height="6" fill="#c0c0c0"/>
<rect x="866" y="450" width="3" height="8" fill="#c0c0c0"/>
<rect x="874" y="451" width="3" height="7" fill="#c0c0c0"/>
<rect x="882" y="454" width="3" height="4" fill="#c0c0c0"/>
<rect x="890" y="458" width="3" height="1" fill="#c0c0c0"/>
<rect x="898" y="458" width="3" height="5" fill="#c0c0c0"/>
<rect x="906" y="458" width="3" height="9" fill="#c0c0c0"/>
<rect x="914" y="458" width="3" height="12" fill="#c0c0c0"/>
<polyline points="2.8,475.2 12.0,471.6 27.8,468.7 43.7,462.7 59.6,457.1 75.5,451.8 91.4,446.8 107.3,442.8 123.2,438.8 139.1,434.9 155.0,431.5 170.9,428.9 186.8,426.9 198.7,425.9 206.6,425.9 218.6,427.9 230.5,430.3 240.0,432.3 251.9,434.9 263.8,436.9 275.8,437.3 285.7,436.9 297.6,435.3 307.6,434.3 313.5,433.5 333.4,433.5 343.3,434.9 359.2,436.9 369.2,440.2 379.1,444.4 391.0,448.8 402.9,453.2 414.9,455.7 426.8,460.1 438.7,463.1 450.6,466.1 462.5,468.7 474.5,473.6 480.0,474.6 489.9,478.2 499.9,480.6 509.8,482.6 519.7,484.2 527.7,484.2 539.6,483.2 549.5,480.6 559.5,478.2 569.4,474.2 579.3,469.6 589.3,464.7 595.2,462.1 603.2,460.1 611.1,457.1 619.1,455.1 627.0,453.2 633.0,452.2 652.9,452.2 656.8,451.4 720.0,451.4 727.0,450.4 783.6,450.4 791.5,451.8 799.5,452.8 807.4,454.1 853.1,454.1 857.1,453.2 863.1,452.4 877.0,452.4 881.0,451.4 886.9,451.4 890.9,452.4 898.8,453.4 906.8,455.1 912.7,456.3 915.7,458.3" fill="none" stroke="#ff0000" stroke-width="1" shape-rendering="crispEdges"/>
</g>
<text x="7.5" y="431" font-size="10.1" fill="#000" text-anchor="start" textLength="150.5" lengthAdjust="spacingAndGlyphs" stroke="#000" stroke-width="0.2">MACD(12,26,9) -0.002495 0.000284</text>
<text x="1169.4" y="429" font-size="10.1" fill="#000" text-anchor="start" textLength="37.3" lengthAdjust="spacingAndGlyphs" stroke="#000" stroke-width="0.2">0.009278</text>
<rect x="1166" y="458" width="1" height="1" fill="#000"/>
<rect x="1166" y="420" width="1" height="1" fill="#000"/>
<text x="1169.4" y="462" font-size="10.1" fill="#000" text-anchor="start" textLength="17.3" lengthAdjust="spacingAndGlyphs" stroke="#000" stroke-width="0.2">0.00</text>
<rect x="1166" y="489" width="1" height="1" fill="#000"/>
<text x="1168.9" y="487" font-size="10.1" fill="#000" text-anchor="start" textLength="40.5" lengthAdjust="spacingAndGlyphs" stroke="#000" stroke-width="0.2">-0.007504</text>
<g clip-path="url(#c3)">
<line x1="3" y1="515.5" x2="1165" y2="515.5" stroke="#c0c0c0" stroke-width="1" stroke-dasharray="3 3" stroke-dashoffset="-1" shape-rendering="crispEdges"/>
<line x1="3" y1="544.5" x2="1165" y2="544.5" stroke="#c0c0c0" stroke-width="1" stroke-dasharray="3 3" stroke-dashoffset="-1" shape-rendering="crispEdges"/>
<polyline points="2.8,529.3 10.9,530.3 18.9,523.8 27.8,517.4 35.8,521.2 43.7,522.8 51.3,525.4 59.6,521.8 67.6,518.4 75.5,519.4 83.5,516.4 91.4,517.4 99.3,514.0 107.3,517.4 115.2,519.4 123.2,519.4 131.1,512.2 139.1,519.4 147.0,518.4 155.0,516.4 162.9,514.4 170.9,514.4 178.8,513.2 186.8,516.4 194.7,522.4 203.1,531.1 211.0,531.1 219.0,527.1 227.1,525.2 235.0,526.3 243.0,521.8 251.0,518.4 259.0,520.4 267.0,525.2 275.0,520.4 283.0,519.2 291.0,517.4 299.0,519.2 307.0,524.2 315.0,526.1 323.0,527.3 331.0,527.3 339.0,529.1 347.0,527.3 355.0,530.1 363.0,532.1 371.0,538.7 379.0,537.3 387.0,530.3 395.0,533.3 403.0,529.3 411.0,531.1 419.0,536.3 427.0,535.3 435.0,534.3 443.0,538.3 451.0,541.2 459.0,541.2 467.0,537.3 475.0,538.3 483.0,539.3 491.0,540.7 499.0,539.3 507.0,539.3 515.0,533.7 523.0,534.7 531.0,529.7 539.0,530.3 547.0,527.3 555.0,522.4 563.0,520.4 571.0,522.2 579.0,525.4 587.0,527.3 595.0,528.3 603.0,528.3 611.0,523.4 619.0,524.4 627.0,530.3 635.0,527.3 643.0,529.3 651.0,526.3 659.0,525.4 667.0,527.3 675.0,526.1 683.0,527.3 691.0,529.3 699.0,528.3 707.0,525.4 715.0,524.4 723.0,524.4 731.0,523.4 739.0,527.1 747.0,521.4 755.0,530.3 763.0,527.3 771.0,533.3 779.0,529.3 787.0,534.3 795.0,532.3 803.0,528.3 811.0,529.3 819.0,525.4 827.0,520.4 835.0,526.3 843.0,528.3 851.0,530.1 859.0,530.1 867.0,525.4 875.0,528.3 883.0,532.3 891.0,535.3 899.0,536.3 907.0,536.3 915.0,536.3" fill="none" stroke="#1e90ff" stroke-width="1" shape-rendering="crispEdges"/>
</g>
<text x="7.5" y="505" font-size="10.1" fill="#000" text-anchor="start" textLength="67.5" lengthAdjust="spacingAndGlyphs" stroke="#000" stroke-width="0.2">RSI(14) 40.3865</text>
<rect x="1166" y="494" width="1" height="1" fill="#000"/>
<text x="1169.5" y="503" font-size="10.1" fill="#000" text-anchor="start" textLength="14.4" lengthAdjust="spacingAndGlyphs" stroke="#000" stroke-width="0.2">100</text>
<rect x="1166" y="515" width="1" height="1" fill="#000"/>
<text x="1168.2" y="519" font-size="10.1" fill="#000" text-anchor="start" textLength="9.5" lengthAdjust="spacingAndGlyphs" stroke="#000" stroke-width="0.2">70</text>
<rect x="1166" y="544" width="1" height="1" fill="#000"/>
<text x="1168.2" y="548" font-size="10.1" fill="#000" text-anchor="start" textLength="9.5" lengthAdjust="spacingAndGlyphs" stroke="#000" stroke-width="0.2">30</text>
<rect x="1166" y="565" width="1" height="1" fill="#000"/>
<text x="1169.1" y="563" font-size="10.1" fill="#000" text-anchor="start" textLength="4.7" lengthAdjust="spacingAndGlyphs" stroke="#000" stroke-width="0.2">0</text>
<rect x="3" y="567" width="1" height="3" fill="#000"/>
<text x="2" y="579" font-size="10.1" fill="#000" text-anchor="start" textLength="48.2" lengthAdjust="spacingAndGlyphs" stroke="#000" stroke-width="0.2">8 Nov 2021</text>
<rect x="67" y="567" width="1" height="3" fill="#000"/>
<text x="66.2" y="579" font-size="10.1" fill="#000" text-anchor="start" textLength="52.7" lengthAdjust="spacingAndGlyphs" stroke="#000" stroke-width="0.2">17 Nov 2021</text>
<rect x="131" y="567" width="1" height="3" fill="#000"/>
<text x="130.3" y="579" font-size="10.1" fill="#000" text-anchor="start" textLength="52.7" lengthAdjust="spacingAndGlyphs" stroke="#000" stroke-width="0.2">26 Nov 2021</text>
<rect x="195" y="567" width="1" height="3" fill="#000"/>
<text x="194.1" y="579" font-size="10.1" fill="#000" text-anchor="start" textLength="46.1" lengthAdjust="spacingAndGlyphs" stroke="#000" stroke-width="0.2">6 Dec 2021</text>
<rect x="259" y="567" width="1" height="3" fill="#000"/>
<text x="258.4" y="579" font-size="10.1" fill="#000" text-anchor="start" textLength="50.5" lengthAdjust="spacingAndGlyphs" stroke="#000" stroke-width="0.2">15 Dec 2021</text>
<rect x="323" y="567" width="1" height="3" fill="#000"/>
<text x="322" y="579" font-size="10.1" fill="#000" text-anchor="start" textLength="51" lengthAdjust="spacingAndGlyphs" stroke="#000" stroke-width="0.2">24 Dec 2021</text>
<rect x="387" y="567" width="1" height="3" fill="#000"/>
<text x="386.3" y="579" font-size="10.1" fill="#000" text-anchor="start" textLength="44.2" lengthAdjust="spacingAndGlyphs" stroke="#000" stroke-width="0.2">3 Jan 2022</text>
<rect x="451" y="567" width="1" height="3" fill="#000"/>
<text x="450.7" y="579" font-size="10.1" fill="#000" text-anchor="start" textLength="48.5" lengthAdjust="spacingAndGlyphs" stroke="#000" stroke-width="0.2">12 Jan 2022</text>
<rect x="515" y="567" width="1" height="3" fill="#000"/>
<text x="514.1" y="579" font-size="10.1" fill="#000" text-anchor="start" textLength="49.3" lengthAdjust="spacingAndGlyphs" stroke="#000" stroke-width="0.2">21 Jan 2022</text>
<rect x="579" y="567" width="1" height="3" fill="#000"/>
<text x="578.3" y="579" font-size="10.1" fill="#000" text-anchor="start" textLength="49.3" lengthAdjust="spacingAndGlyphs" stroke="#000" stroke-width="0.2">31 Jan 2022</text>
<rect x="643" y="567" width="1" height="3" fill="#000"/>
<text x="642.4" y="579" font-size="10.1" fill="#000" text-anchor="start" textLength="46.5" lengthAdjust="spacingAndGlyphs" stroke="#000" stroke-width="0.2">9 Feb 2022</text>
<rect x="707" y="567" width="1" height="3" fill="#000"/>
<text x="706.6" y="579" font-size="10.1" fill="#000" text-anchor="start" textLength="50.5" lengthAdjust="spacingAndGlyphs" stroke="#000" stroke-width="0.2">18 Feb 2022</text>
<rect x="771" y="567" width="1" height="3" fill="#000"/>
<text x="770.3" y="579" font-size="10.1" fill="#000" text-anchor="start" textLength="51.3" lengthAdjust="spacingAndGlyphs" stroke="#000" stroke-width="0.2">28 Feb 2022</text>
<rect x="835" y="567" width="1" height="3" fill="#000"/>
<text x="834.5" y="579" font-size="10.1" fill="#000" text-anchor="start" textLength="46" lengthAdjust="spacingAndGlyphs" stroke="#000" stroke-width="0.2">9 Mar 2022</text>
<rect x="899" y="567" width="1" height="3" fill="#000"/>
<text x="898.7" y="579" font-size="10.1" fill="#000" text-anchor="start" textLength="50.4" lengthAdjust="spacingAndGlyphs" stroke="#000" stroke-width="0.2">18 Mar 2022</text>
<rect x="0" y="587" width="1208" height="1" fill="#dddddd"/>
<rect x="0" y="588" width="1208" height="1" fill="#f6f6f6"/>
<rect x="0" y="589" width="1208" height="1" fill="#000"/>
<rect x="0" y="590" width="1208" height="24" fill="#f0f0f0"/>
<rect x="0" y="609" width="1208" height="1" fill="#ffffff"/>
<rect x="0" y="612" width="1208" height="1" fill="#cfcfcf"/>
<rect x="0" y="613" width="1208" height="1" fill="#a0a0a0"/>
<rect x="427" y="590" width="1" height="18" fill="#ffffff"/>
<rect x="428" y="589" width="108" height="19" fill="#000"/>
<rect x="429" y="588" width="106" height="19" fill="#fff"/>
<text x="15.4" y="603.8" font-size="12.5" fill="#666666" text-anchor="start" textLength="77.7" lengthAdjust="spacingAndGlyphs">USDX,Weekly</text>
<text x="115.5" y="603.8" font-size="12.5" fill="#666666" text-anchor="start" textLength="84.4" lengthAdjust="spacingAndGlyphs">EURUSD-,Daily</text>
<text x="222.5" y="603.8" font-size="12.5" fill="#666666" text-anchor="start" textLength="86.3" lengthAdjust="spacingAndGlyphs">AUDUSD-,Daily</text>
<text x="332.5" y="603.8" font-size="12.5" fill="#666666" text-anchor="start" textLength="83.0" lengthAdjust="spacingAndGlyphs">USDCHF-,Daily</text>
<text x="548.8" y="603.8" font-size="12.5" fill="#666666" text-anchor="start" textLength="86.7" lengthAdjust="spacingAndGlyphs">USDCNH-,Daily</text>
<text x="659.5" y="603.8" font-size="12.5" fill="#666666" text-anchor="start" textLength="73.0" lengthAdjust="spacingAndGlyphs">XAUUSD-,H1</text>
<text x="755" y="603.8" font-size="12.5" fill="#666666" text-anchor="start" textLength="64.5" lengthAdjust="spacingAndGlyphs">UKOil-,M15</text>
<text x="844.3" y="603.8" font-size="12.5" fill="#666666" text-anchor="start" textLength="63.7" lengthAdjust="spacingAndGlyphs">DJ30-,Daily</text>
<text x="931.8" y="603.8" font-size="12.5" fill="#666666" text-anchor="start" textLength="60.7" lengthAdjust="spacingAndGlyphs">UK100-,H1</text>
<text x="1016.3" y="603.8" font-size="12.5" fill="#666666" text-anchor="start" textLength="55.5" lengthAdjust="spacingAndGlyphs">USOil-,H4</text>
<text x="1094.4" y="603.8" font-size="12.5" fill="#666666" text-anchor="start" textLength="66.6" lengthAdjust="spacingAndGlyphs">HK50-,Daily</text>
<text x="439.3" y="603.8" font-size="12.5" fill="#000" text-anchor="start" textLength="85.5" lengthAdjust="spacingAndGlyphs" stroke="#000" stroke-width="0.15">USDCAD-,Daily</text>
<rect x="104" y="592" width="1" height="14" fill="#5a5a5a"/>
<rect x="212" y="592" width="1" height="14" fill="#5a5a5a"/>
<rect x="320" y="592" width="1" height="14" fill="#5a5a5a"/>
<rect x="648" y="592" width="1" height="14" fill="#5a5a5a"/>
<rect x="744" y="592" width="1" height="14" fill="#5a5a5a"/>
<rect x="832" y="592" width="1" height="14" fill="#5a5a5a"/>
<rect x="920" y="592" width="1" height="14" fill="#5a5a5a"/>
<rect x="1004" y="592" width="1" height="14" fill="#5a5a5a"/>
<rect x="1084" y="592" width="1" height="14" fill="#5a5a5a"/>
<rect x="1172" y="592" width="1" height="14" fill="#5a5a5a"/>
<path d="M1184.5 595 L1184.5 601 L1180.5 598 Z" fill="#a0a0a0"/>
<path d="M1200 595 L1200 601 L1204 598 Z" fill="#a0a0a0"/>
</svg>
</body></html>
